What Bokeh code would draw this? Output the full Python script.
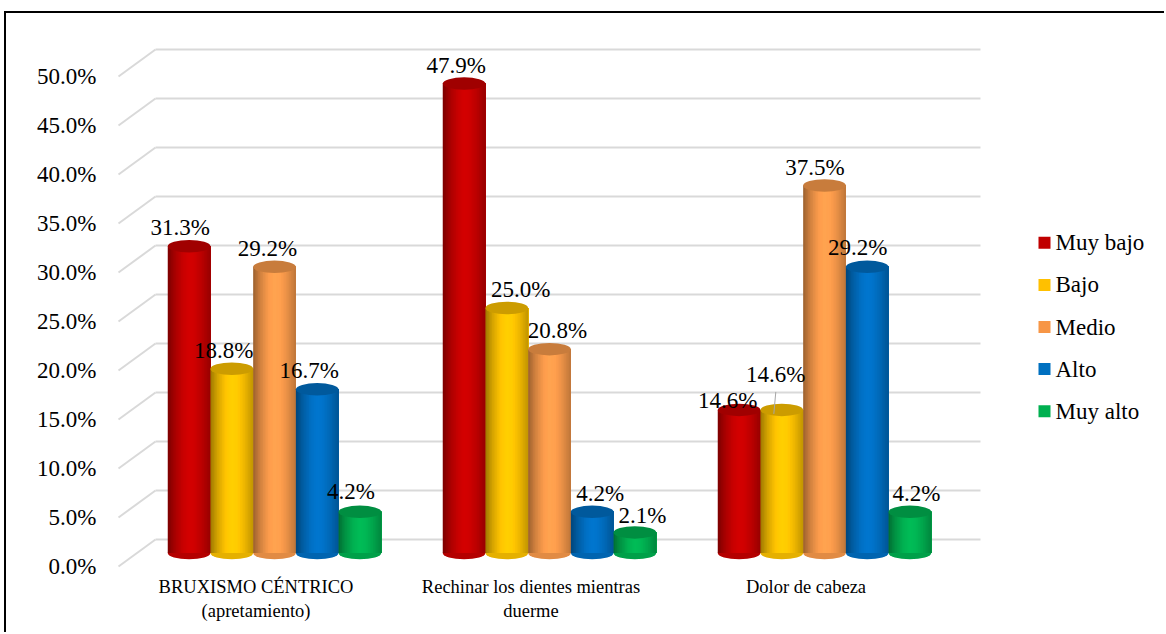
from bokeh.plotting import figure
from bokeh.models import ColumnDataSource, FixedTicker, PrintfTickFormatter
from bokeh.core.properties import value
from bokeh.embed import file_html
from bokeh.resources import INLINE

# ---------------- data ----------------
categories = ["BRUXISMO CÉNTRICO\n(apretamiento)",
              "Rechinar los dientes mientras\nduerme",
              "Dolor de cabeza"]
series_names = ["Muy bajo", "Bajo", "Medio", "Alto", "Muy alto"]
muy_bajo = [31.3, 47.9, 14.6]
bajo = [18.8, 25.0, 14.6]
medio = [29.2, 20.8, 37.5]
alto = [16.7, 4.2, 29.2]
muy_alto = [4.2, 2.1, 4.2]
y_ticks = [0, 5, 10, 15, 20, 25, 30, 35, 40, 45, 50]

series_values = [muy_bajo, bajo, medio, alto, muy_alto]

# ---------------- styles ----------------
legend_colors = ["#C00000", "#FFC000", "#F79646", "#0070C0", "#00B050"]
body_colors = ["#C80000", "#FFC400", "#FA9B4C", "#0070C4", "#00B252"]
# shading anchors across the cylinder width (position 0..1 -> brightness factor)
shade_anchors = [(0.0, 0.62), (0.15, 0.82), (0.35, 1.0), (0.5, 1.06), (0.62, 1.04),
                 (0.8, 0.93), (1.0, 0.76)]
N_STRIPS = 26
FONT = "Liberation Serif"

# label offsets in screen pixels (dx right, rise above bar top)
label_dx = [[-9, -8, -11.5], [-8, 14, -6], [-7, 8, -9.5], [-8, 8, -9.5], [-9, 7.5, 6.5]]
label_rise = [[19, 18.5, 9], [18, 18.5, 35], [18, 19, 18], [19, 18.5, 19], [20, 17, 18]]

# geometry (pixel scale of the picture)
PX_CAT = 275.0      # pixels per category
PX_PCT = 9.8        # pixels per percent
BACK_DX, BACK_DY = 37.0 / PX_CAT, 27.0 / PX_PCT
MID_DX, MID_DY = BACK_DX / 2, BACK_DY / 2
BAR_W = 42.7 / PX_CAT
ELL_H = 12.5 / PX_PCT

FRAME_L, FRAME_R, FRAME_T, FRAME_B = 100, 1160, 20, 570   # page px
FRONT_X0, FRONT_Y0, FRONT_Y50 = 118, 566, 76
OFF_X, OFF_Y = 6, 13   # canvas offset inside page (margin + border)

# legend placement (page px)
LEG_X, LEG_Y0, LEG_STEP, LEG_SQ, LEG_GAP = 1044, 242.3, 42.1, 12, 11

x_start = -(FRONT_X0 - FRAME_L) / PX_CAT
x_end = (FRAME_R - FRONT_X0) / PX_CAT
y_start = -(FRAME_B - FRONT_Y0) / PX_PCT
y_end = 50 + (FRONT_Y50 - FRAME_T) / PX_PCT

W, H = 1166 - OFF_X, 634 - OFF_Y

p = figure(width=W, height=H, x_range=(x_start, x_end), y_range=(y_start, y_end),
           output_backend="svg", toolbar_location=None,
           min_border_left=FRAME_L - OFF_X, min_border_right=W - (FRAME_R - OFF_X),
           min_border_top=FRAME_T - OFF_Y, min_border_bottom=H - (FRAME_B - OFF_Y))
p.styles = {"margin-left": "4px", "margin-top": "11px",
            "border-left": "2px solid #000000", "border-top": "2px solid #000000"}
p.outline_line_color = None
p.xgrid.visible = False
p.ygrid.visible = False
p.background_fill_color = "white"
p.border_fill_color = "white"


def shade(hexc, f):
    r, g, b = int(hexc[1:3], 16), int(hexc[3:5], 16), int(hexc[5:7], 16)
    return "#%02x%02x%02x" % (min(255, int(r * f)), min(255, int(g * f)), min(255, int(b * f)))


def shade_factor(t):
    for (t0, f0), (t1, f1) in zip(shade_anchors[:-1], shade_anchors[1:]):
        if t0 <= t <= t1:
            return f0 + (f1 - f0) * (t - t0) / (t1 - t0)
    return shade_anchors[-1][1]


# ---------------- 3D grid ----------------
ncat = len(categories)
p.segment(x0=[BACK_DX] * len(y_ticks), y0=[t + BACK_DY for t in y_ticks],
          x1=[ncat + BACK_DX] * len(y_ticks), y1=[t + BACK_DY for t in y_ticks],
          line_color="#D9D9D9", line_width=2)
p.segment(x0=[0] * len(y_ticks), y0=y_ticks,
          x1=[BACK_DX] * len(y_ticks), y1=[t + BACK_DY for t in y_ticks],
          line_color="#D9D9D9", line_width=2)

# ---------------- cylinders ----------------
nser = len(series_names)
bot = dict(x=[], y=[], c=[])
top = dict(x=[], y=[], c=[])
strips = dict(left=[], right=[], bottom=[], top=[], c=[])
labels = dict(x=[], y=[], text=[], dx=[], dy=[])
for s, vals in enumerate(series_values):
    for c, v in enumerate(vals):
        xc = c + 0.5 + MID_DX + (s - (nser - 1) / 2) * BAR_W
        y0 = MID_DY
        y1 = v + MID_DY
        bot["x"].append(xc); bot["y"].append(y0); bot["c"].append(shade(body_colors[s], 0.9))
        top["x"].append(xc); top["y"].append(y1); top["c"].append(shade(body_colors[s], 0.80))
        for k in range(N_STRIPS):
            t = (k + 0.5) / N_STRIPS
            strips["left"].append(xc - BAR_W / 2 + k * BAR_W / N_STRIPS)
            strips["right"].append(xc + BAR_W / 2)
            strips["bottom"].append(y0)
            strips["top"].append(y1)
            strips["c"].append(shade(body_colors[s], shade_factor(t)))
        labels["x"].append(xc); labels["y"].append(y1)
        labels["text"].append("%.1f%%" % v)
        labels["dx"].append(label_dx[s][c]); labels["dy"].append(-label_rise[s][c])

p.ellipse(x="x", y="y", width=BAR_W, height=ELL_H, fill_color="c", line_color=None,
          source=ColumnDataSource(bot))
p.quad(left="left", right="right", bottom="bottom", top="top", fill_color="c",
       line_color=None, source=ColumnDataSource(strips))
p.ellipse(x="x", y="y", width=BAR_W, height=ELL_H, fill_color="c", line_color=None,
          source=ColumnDataSource(top))

# leader line for the displaced "Bajo / Dolor de cabeza" label
xl = 2 + 0.5 + MID_DX + (1 - (nser - 1) / 2) * BAR_W
p.segment(x0=[xl - 6 / PX_CAT], y0=[bajo[2] + MID_DY + 18 / PX_PCT],
          x1=[xl - 8 / PX_CAT], y1=[bajo[2] + MID_DY - 4 / PX_PCT],
          line_color="#A6A6A6", line_width=1)

p.text(x="x", y="y", text="text", x_offset="dx", y_offset="dy",
       text_font=value(FONT), text_font_size="23px", text_color="#000000",
       text_align="center", text_baseline="middle", source=ColumnDataSource(labels))

# ---------------- axes ----------------
yax = p.yaxis[0]
yax.ticker = FixedTicker(ticks=y_ticks)
yax.formatter = PrintfTickFormatter(format="%.1f%%")
yax.axis_line_color = None
yax.major_tick_line_color = None
yax.minor_tick_line_color = None
yax.major_tick_out = 0
yax.major_label_standoff = 4
yax.major_label_text_font = FONT
yax.major_label_text_font_size = "23px"
yax.major_label_text_color = "#000000"

xax = p.xaxis[0]
xax.ticker = FixedTicker(ticks=[i + 0.5 for i in range(ncat)])
xax.major_label_overrides = {i + 0.5: categories[i] for i in range(ncat)}
xax.axis_line_color = None
xax.major_tick_line_color = None
xax.minor_tick_line_color = None
xax.major_tick_out = 0
xax.major_label_standoff = 6
xax.major_label_text_font = FONT
xax.major_label_text_font_size = "18.5px"
xax.major_label_text_color = "#000000"

# ---------------- legend (drawn in place) ----------------
leg = dict(x=[], y=[], c=[], name=[])
for s, name in enumerate(series_names):
    leg["x"].append((LEG_X - FRONT_X0) / PX_CAT)
    leg["y"].append((FRONT_Y0 - (LEG_Y0 + s * LEG_STEP)) / PX_PCT)
    leg["c"].append(legend_colors[s])
    leg["name"].append(name)
leg_src = ColumnDataSource(leg)
p.rect(x="x", y="y", width=LEG_SQ, height=LEG_SQ, width_units="screen", height_units="screen",
       fill_color="c", line_color=None, source=leg_src)
p.text(x="x", y="y", text="name", x_offset=LEG_GAP, text_font=value(FONT),
       text_font_size="23px", text_color="#000000", text_align="left",
       text_baseline="middle", source=leg_src)

open("out.html", "w").write(file_html(p, INLINE))
